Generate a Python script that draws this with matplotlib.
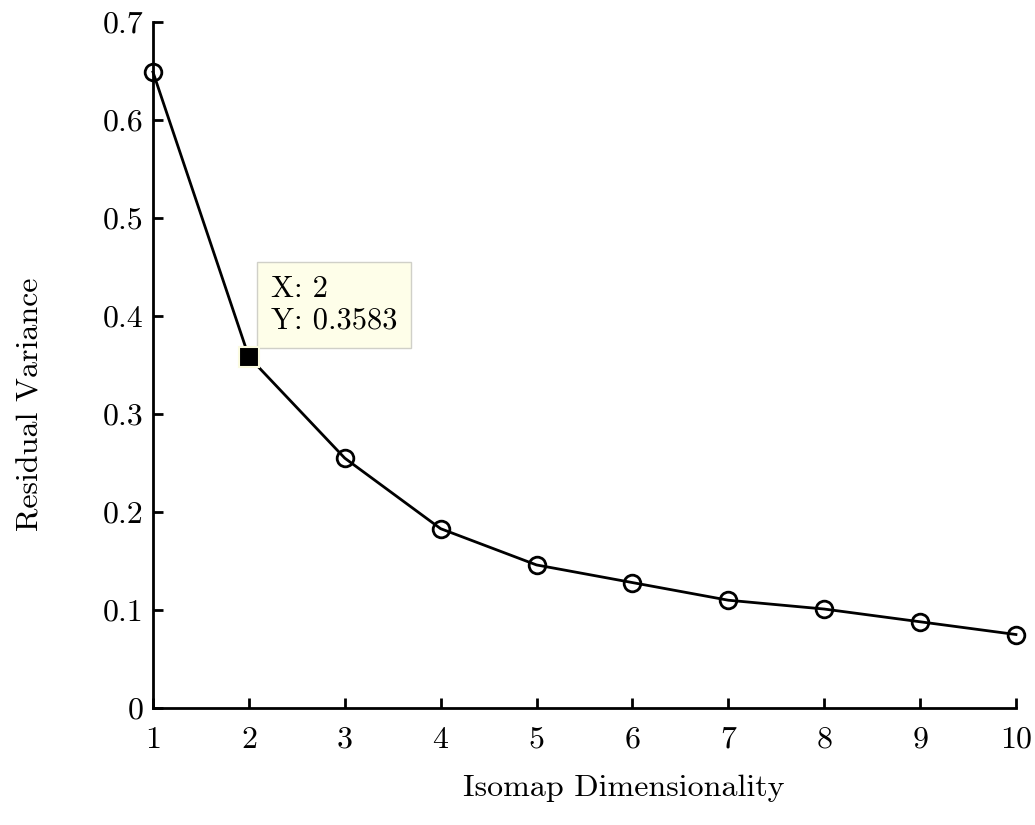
import numpy as np
import matplotlib.pyplot as plt

plt.rcParams["font.family"] = "cmr10"
plt.rcParams["mathtext.fontset"] = "cm"
plt.rcParams["axes.formatter.use_mathtext"] = True

# residual variance for each isomap dimensionality
dims = [1, 2, 3, 4, 5, 6, 7, 8, 9, 10]
resid_var = [0.649, 0.3583, 0.255, 0.183, 0.146, 0.128, 0.110, 0.101, 0.088, 0.075]
xticks = [1, 2, 3, 4, 5, 6, 7, 8, 9, 10]
yticks = [0, 0.1, 0.2, 0.3, 0.4, 0.5, 0.6, 0.7]
ytick_labels = ["0", "0.1", "0.2", "0.3", "0.4", "0.5", "0.6", "0.7"]

fig = plt.figure(figsize=(10.35, 8.25), dpi=100)
ax = fig.add_axes([0.1478, 0.1418, 0.8338, 0.8315])

ax.plot(dims, resid_var, color="black", lw=2, marker="o", markersize=12,
        markerfacecolor="none", markeredgewidth=2, clip_on=False, zorder=3)

# data tip on the point at x = 2
ax.plot(dims[1], resid_var[1], marker="s", markersize=15, color="black",
        markeredgecolor="#fbfbe0", markeredgewidth=1.5, zorder=4, clip_on=False)
ax.annotate("X: %d\nY: %.4f" % (dims[1], resid_var[1]), xy=(dims[1], resid_var[1]),
            xytext=(16, 16), textcoords="offset points", fontsize=22,
            ha="left", va="bottom", linespacing=1.2,
            bbox=dict(boxstyle="square,pad=0.45", fc="#fefee9", ec="#d0d0c8", lw=1))

ax.set_xlim(1, 10)
ax.set_ylim(0, 0.7)
ax.set_xticks(xticks)
ax.set_yticks(yticks)
ax.set_yticklabels(ytick_labels)
ax.tick_params(direction="in", length=7, width=2, labelsize=23)
ax.tick_params(axis="x", pad=13)
ax.tick_params(axis="y", pad=7)

for s in ["top", "right"]:
    ax.spines[s].set_visible(False)
for s in ["left", "bottom"]:
    ax.spines[s].set_linewidth(2)

ax.set_xlabel("Isomap Dimensionality", fontsize=23, labelpad=15)
ax.set_ylabel("Residual Variance", fontsize=23, labelpad=42)
# labels sit a bit off-centre in the original
ax.xaxis.label.set_x(0.545)
ax.yaxis.label.set_y(0.442)

fig.savefig("out.png", dpi=100)
